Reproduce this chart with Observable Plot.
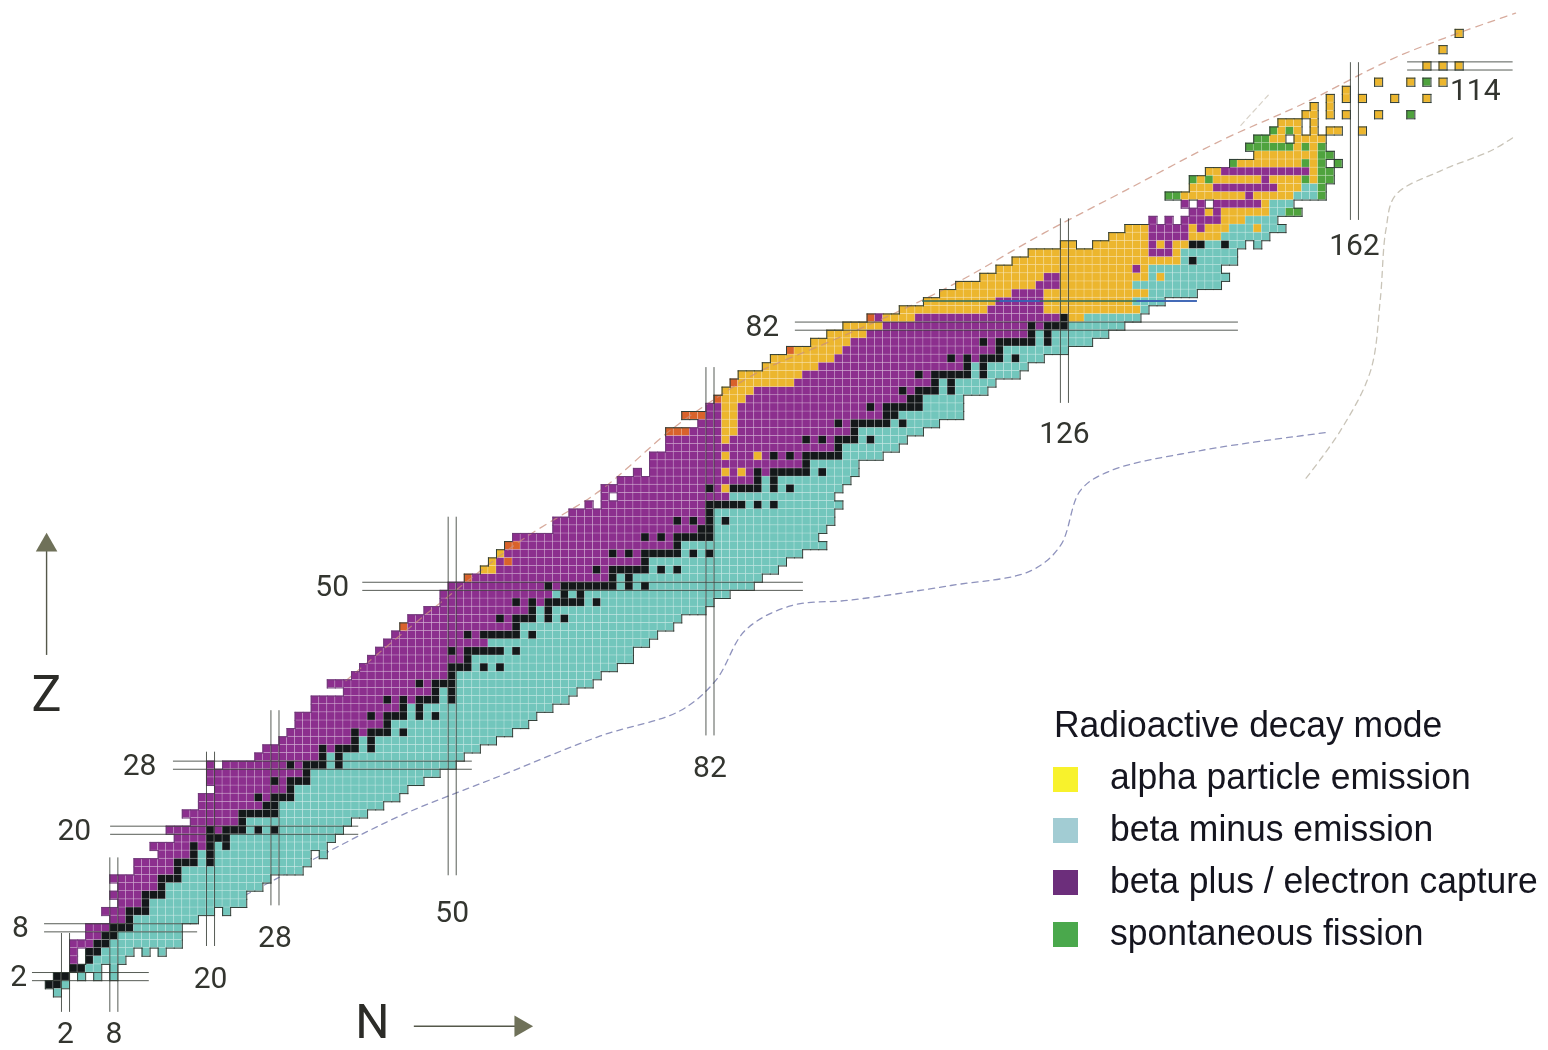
<!DOCTYPE html>
<html><head><meta charset="utf-8">
<script src="https://cdn.jsdelivr.net/npm/d3@7"></script>
<script src="https://cdn.jsdelivr.net/npm/@observablehq/plot@0.6"></script>
<style>
html,body{margin:0;padding:0;background:#fff;}
#wrap{position:relative;width:1548px;height:1050px;overflow:hidden;}
#chart svg{display:block;filter:blur(0.6px);}
.lg{position:absolute;font-family:"Liberation Sans",Arial,sans-serif;color:#15151f;white-space:nowrap;font-size:36px;line-height:40px;transform-origin:0 50%;transform:scaleX(.985);filter:blur(0.35px);}
.sw{position:absolute;width:25px;height:25px;left:1053px;filter:blur(0.5px);}
</style></head><body>
<div id="wrap"><div id="chart"></div></div>
<script>
// Neutron number range of the chart for each proton number, index = Z
const minN=[1,0,1,3,3,3,3,5,5,8,7,8,8,8,8,11,11,14,13,16,15,18,17,19,19,20,20,20,20,26,27,29,30,31,31,33,33,37,35,38,39,40,41,42,43,44,45,47,49,49,50,52,54,55,56,57,58,63,63,65,67,69,69,71,73,75,75,77,77,77,81,79,82,83,84,85,86,89,90,92,95,97,99,102,106,109,111,113,116,118,120,122,126,132,134,137,142,141,139,142,142,144,147,150,149,150,152,153,156,157];
const maxN=[1,2,8,8,9,14,16,16,16,18,22,24,24,26,27,31,32,34,34,35,36,37,39,41,43,44,46,48,50,51,53,55,57,59,60,62,64,65,67,68,70,72,72,74,75,77,78,81,82,84,87,88,90,91,93,96,95,96,97,97,98,97,98,99,100,100,103,105,106,108,110,113,113,113,116,117,120,121,123,126,129,131,133,135,136,138,142,145,146,145,147,147,150,151,153,152,155,154,158,158,159,159,160,159,158,158,157,157,157,157];
// First neutron number of the beta-minus side, index = Z
const tealStart=[0,2,3,5,6,7,8,9,11,11,13,13,15,15,17,17,19,19,21,23,25,25,29,29,31,31,33,33,35,35,39,39,43,43,45,45,49,49,51,51,53,53,57,55,59,59,61,61,67,63,71,71,75,75,79,79,83,83,83,83,87,85,89,89,95,95,99,99,101,101,105,106,109,109,111,111,115,115,119,119,123,123,127,129,136,135,137,135,137,137,141,141,142,146,147,149,152,152,155,156,158,999,999,999,999,999,999,999,999,999];
// Stable nuclides: neutron numbers, index = Z
const stableN=[[],[0,1],[1,2],[3,4],[5],[5,6],[6,7],[7,8],[8,9,10],[10],[10,11,12],[12],[12,13,14],[14],[14,15,16],[16],[16,17,18,20],[18,20],[18,20,22],[20,21,22],[20,22,23,24,26,28],[24],[24,25,26,27,28],[27,28],[26,28,29,30],[30],[28,30,31,32],[32],[30,32,33,34,36],[34,36],[34,36,37,38,40],[38,40],[38,40,41,42,44],[42],[40,42,43,44,46,48],[44,46],[42,44,46,47,48,50],[48,50],[46,48,49,50],[50],[50,51,52,54,56],[52],[50,52,53,54,55,56,58],[],[52,54,55,56,57,58,60],[58],[56,58,59,60,62,64],[60,62],[58,60,62,63,64,65,66,68],[64,66],[62,64,65,66,67,68,69,70,72,74],[70,72],[68,70,71,72,73,74,76,78],[74],[70,72,74,75,76,77,78,80,82],[78],[74,76,78,79,80,81,82],[81,82],[78,80,82,84],[82],[82,83,84,85,86,88,90],[],[82,85,86,87,88,90,92],[88,90],[88,90,91,92,93,94,96],[94],[90,92,94,95,96,97,98],[98],[94,96,98,99,100,102],[100],[98,100,101,102,103,104,106],[104,105],[102,104,105,106,107,108],[107,108],[106,108,109,110,112],[110,112],[108,110,111,112,113,114,116],[114,116],[112,114,116,117,118,120],[118],[116,118,119,120,121,122,124],[122,124],[122,124,125,126],[126],[],[],[],[],[],[],[142],[],[142,143,146]];
// Alpha emitters: [Z, first N, last N]
const alphaRuns=[[52,54,55],[53,55,55],[54,56,56],[62,84,84],[64,84,84],[64,86,86],[66,84,84],[66,88,88],[68,84,84],[69,84,85],[70,84,85],[71,84,85],[72,84,85],[73,84,86],[74,84,87],[75,86,92],[76,86,93],[77,89,95],[78,90,97],[79,92,98],[80,95,99],[81,97,101],[82,99,103],[83,104,107],[83,127,128],[84,106,116],[84,124,135],[85,109,117],[85,124,134],[86,111,119],[86,124,136],[87,113,122],[87,126,134],[88,116,123],[88,126,136],[88,138,138],[89,118,134],[89,136,136],[90,120,140],[91,122,136],[91,140,140],[92,126,136],[92,138,138],[92,140,141],[93,132,136],[93,142,145],[94,134,136],[94,142,142],[94,144,146],[94,150,150],[95,146,148],[96,144,144],[96,146,151],[97,151,151],[98,141,148],[98,150,154],[99,142,144],[99,153,155],[100,143,143],[100,145,150],[100,152,155],[100,157,157],[101,144,145],[101,157,157],[102,148,155],[102,157,157],[103,150,157],[104,155,155],[104,157,157],[105,152,153],[105,155,158],[106,153,155],[106,157,157],[107,153,155],[107,157,157],[108,156,157],[109,157,157],
[106,159,160],[106,163,163],[108,159,159],[108,161,161],[108,165,165],[109,159,159],[110,159,159],[110,161,161],[110,163,163],[110,167,167],[110,171,171],[111,161,161],[112,165,165],[112,169,169],[112,173,173],[114,171,171],[114,173,173],[114,175,175],[116,173,173],[118,175,175]];
// Spontaneous fission: [Z, first N, last N]
const fissionRuns=[[96,154,155],[98,139,140],[98,158,158],[99,158,158],[100,142,142],[100,144,144],[100,156,156],[100,158,159],[101,158,159],[102,147,147],[102,156,156],[102,158,158],[102,160,160],[103,158,159],[104,149,154],[104,156,156],[104,158,158],[105,150,151],[106,152,152],[106,154,154],[108,169,169],[112,171,171]];
// Proton emitters: [Z, first N, last N]
const protonRuns=[[45,44,44],[51,52,52],[53,57,57],[55,57,58],[69,77,79],[71,79,81],[73,83,83],[75,85,85],[79,92,92],[83,102,102]];
// Cells left open in the chart: [Z, N]
const openCells=[[2,3],[2,5],[2,7],[3,7],[4,4],[5,4],[5,11],[5,13],[10,21],[11,8],[13,8],[17,33],[25,20],[28,21],[60,68],[61,70],[64,74],[92,128],[92,129],[92,149],[95,138],[95,140],[97,142],[97,144],[102,159],[105,154],[106,156],[107,156]];

const modeNames=["beta plus","beta minus","alpha","fission","proton","stable"];
const modeColors=["#8c2f8e","#72c6bc","#ecb62e","#4fa33e","#d9622b","#14181a"];

// Magic numbers with the extent of their double lines
const magicZ=[2,8,20,28,50,82,114];
const magicZFrom=[-2.1,-0.6,7.6,15.4,38.9,92.6,168.6];
const magicZTo=[12.4,18.4,38.4,52.5,93.6,147.6,181.7];
const magicZLabelN=[-3.8,-3.6,3.1,11.2,35.1,88.5,177];
const magicZLabelZ=[2,8,20,28,50,82,111];
const magicN=[2,8,20,28,50,82,126,162];
const magicNFrom=[-2.4,-2.4,5.7,10.7,14.4,31.6,72.5,95];
const magicNTo=[7.3,16.6,29.6,34.7,58.5,76.9,95.2,114.4];
const magicNLabelZ=[-4.95,-4.95,1.8,6.8,9.9,27.7,68.8,91.9];

// Dashed limit curves
const neutronLimitN=[24.3,33.7,43.6,56,68.4,78.3,82.7,86.4,92,99.4,111.9,121.8,125.5,128,131.7,142.9,158.4];
const neutronLimitZ=[12,16.9,21.8,26.7,31.6,34.7,38.4,44.6,47.6,48.3,50.1,51.9,55,61.8,64.2,66.7,68.9];
const heavyLimitN=[156,160.3,164,165.2,165.9,167.1,172.7,179,182];
const heavyLimitZ=[63.3,69.2,76.5,85.2,93.8,98.1,101.1,103.6,105.4];
const protonLimitN=[36.8,47.3,58.5,68.4,77.1,83.3,88.3,95.7,105.6,113.1,123,133.6,145.4,155.3,167.7,182];
const protonLimitZ=[38.4,47,55.6,61.8,69.2,73.5,76.5,79.6,83.9,87.6,93.2,98.7,104.8,109.2,115.3,120.5];
const shortLimitN=[147.9,151.3];
const shortLimitZ=[106.7,110.4];

// Build the cell table
const cellMap=new Map();
const key=(z,n)=>z+":"+n;
const put=(z,n,mode)=>cellMap.set(key(z,n),{z,n,mode});
minN.forEach((lo,z)=>{for(let n=lo;n<=maxN[z];n++)put(z,n,n>=tealStart[z]?"beta minus":"beta plus");});
alphaRuns.forEach(([z,a,b])=>{for(let n=a;n<=b;n++)put(z,n,"alpha");});
fissionRuns.forEach(([z,a,b])=>{for(let n=a;n<=b;n++)put(z,n,"fission");});
protonRuns.forEach(([z,a,b])=>{for(let n=a;n<=b;n++)put(z,n,"proton");});
openCells.forEach(([z,n])=>cellMap.delete(key(z,n)));
stableN.forEach((list,z)=>list.forEach(n=>put(z,n,"stable")));
const cells=[...cellMap.values()];

// Outline segments where a cell has no neighbour
const edges=[];
for(const c of cells){
  const s=c.mode==="beta plus"?"#6f3a78":"#2f3d36";
  if(!cellMap.has(key(c.z,c.n-1)))edges.push({x1:c.n-.5,x2:c.n-.5,y1:c.z-.5,y2:c.z+.5,s});
  if(!cellMap.has(key(c.z,c.n+1)))edges.push({x1:c.n+.5,x2:c.n+.5,y1:c.z-.5,y2:c.z+.5,s});
  if(!cellMap.has(key(c.z-1,c.n)))edges.push({x1:c.n-.5,x2:c.n+.5,y1:c.z-.5,y2:c.z-.5,s});
  if(!cellMap.has(key(c.z+1,c.n)))edges.push({x1:c.n-.5,x2:c.n+.5,y1:c.z+.5,y2:c.z+.5,s});
}

const zRules=magicZ.flatMap((z,i)=>[-.5,.5].map(d=>({y:z+d,x1:magicZFrom[i],x2:magicZTo[i]})));
const nRules=magicN.flatMap((n,i)=>[-.5,.5].map(d=>({x:n+d,y1:magicNFrom[i],y2:magicNTo[i]})));
const zipPts=(xs,ys)=>xs.map((x,i)=>({x,y:ys[i]}));
const digits={fontFamily:"Roboto, 'Liberation Sans', sans-serif",fontWeight:400,fontSize:30,fill:"#33352f",textAnchor:"middle"};

const plot=Plot.plot({
  width:1548,height:1050,margin:0,
  style:{background:"#fff",overflow:"visible"},
  x:{domain:[-6.07,186.09],range:[0,1548],axis:null},
  y:{domain:[-7.09,122.05],range:[1050,0],axis:null},
  color:{domain:modeNames,range:modeColors},
  marks:[
    Plot.line(zipPts(neutronLimitN,neutronLimitZ),{x:"x",y:"y",stroke:"#8f93bd",strokeWidth:1.3,strokeDasharray:"6,5",curve:"catmull-rom"}),
    Plot.line(zipPts(heavyLimitN,heavyLimitZ),{x:"x",y:"y",stroke:"#c9c4b8",strokeWidth:1.3,strokeDasharray:"6,5",curve:"catmull-rom"}),
    Plot.line(zipPts(shortLimitN,shortLimitZ),{x:"x",y:"y",stroke:"#d8d2c8",strokeWidth:1.2,strokeDasharray:"5,4"}),
    Plot.rect(cells,{x1:d=>d.n-.5,x2:d=>d.n+.5,y1:d=>d.z-.5,y2:d=>d.z+.5,fill:"mode",stroke:"#fff",strokeWidth:.6,strokeOpacity:.32}),
    Plot.line(zipPts(protonLimitN,protonLimitZ),{x:"x",y:"y",stroke:"#c98f7c",strokeOpacity:.75,strokeWidth:1.3,strokeDasharray:"7,6",curve:"catmull-rom"}),
    Plot.link(edges,{x1:"x1",x2:"x2",y1:"y1",y2:"y2",stroke:d=>d.s,strokeWidth:1,strokeLinecap:"square"}),
    Plot.ruleY(zRules,{y:"y",x1:"x1",x2:"x2",stroke:"#3a4038",strokeWidth:1,strokeOpacity:.85}),
    Plot.ruleX(nRules,{x:"x",y1:"y1",y2:"y2",stroke:"#3a4038",strokeWidth:1,strokeOpacity:.85}),
    Plot.ruleY([85.1],{x1:108.4,x2:142.5,stroke:"#2f6b5f",strokeWidth:1.4}),
    Plot.ruleY([85.1],{x1:118,x2:123,stroke:"#3a5fc8",strokeWidth:1.4}),
    Plot.ruleY([85.1],{x1:135,x2:142.5,stroke:"#3a5fc8",strokeWidth:1.4}),
    Plot.text(magicN,{x:d=>d,y:(d,i)=>magicNLabelZ[i],text:d=>String(d),...digits}),
    Plot.text(magicZ,{x:(d,i)=>magicZLabelN[i],y:(d,i)=>magicZLabelZ[i],text:d=>String(d),...digits}),
    // axis names and arrows
    Plot.ruleX([-0.35],{y1:41.5,y2:55,stroke:"#55584a",strokeWidth:1.4}),
    Plot.dot([{x:-0.35,y:55.05}],{x:"x",y:"y",symbol:"triangle",r:8,fill:"#6f7159",stroke:"none"}),
    Plot.ruleY([-4.1],{x1:45.3,x2:58,stroke:"#55584a",strokeWidth:1.4}),
    Plot.dot([{x:58.5,y:-4.1}],{x:"x",y:"y",symbol:"triangle",r:8,fill:"#6f7159",stroke:"none",rotate:90}),
    Plot.text(["Z"],{x:-0.35,y:36.6,text:d=>d,fontFamily:"Roboto, sans-serif",fontWeight:400,fontSize:50,fill:"#2c2c28"}),
    Plot.text(["N"],{x:40.1,y:-3.7,text:d=>d,fontFamily:"Roboto, sans-serif",fontWeight:400,fontSize:48,fill:"#2c2c28"})
  ]
});
document.getElementById("chart").append(plot);

// Legend
const legendTitle="Radioactive decay mode";
const legendLabels=["alpha particle emission","beta minus emission","beta plus / electron capture","spontaneous fission"];
const legendColors=["#f8f22c","#a2ccd3","#6c2e7b","#4aa84c"];
const wrap=document.getElementById("wrap");
const addText=(t,left,mid)=>{const e=document.createElement("div");e.className="lg";e.textContent=t;e.style.left=left+"px";e.style.top=(mid-20)+"px";wrap.append(e);};
addText(legendTitle,1054,725);
legendLabels.forEach((t,i)=>{
  addText(t,1110,[777,829,881,933][i]);
  const s=document.createElement("div");s.className="sw";s.style.top=[767,818,870,922][i]+"px";s.style.background=legendColors[i];wrap.append(s);
});
</script>
</body></html>
